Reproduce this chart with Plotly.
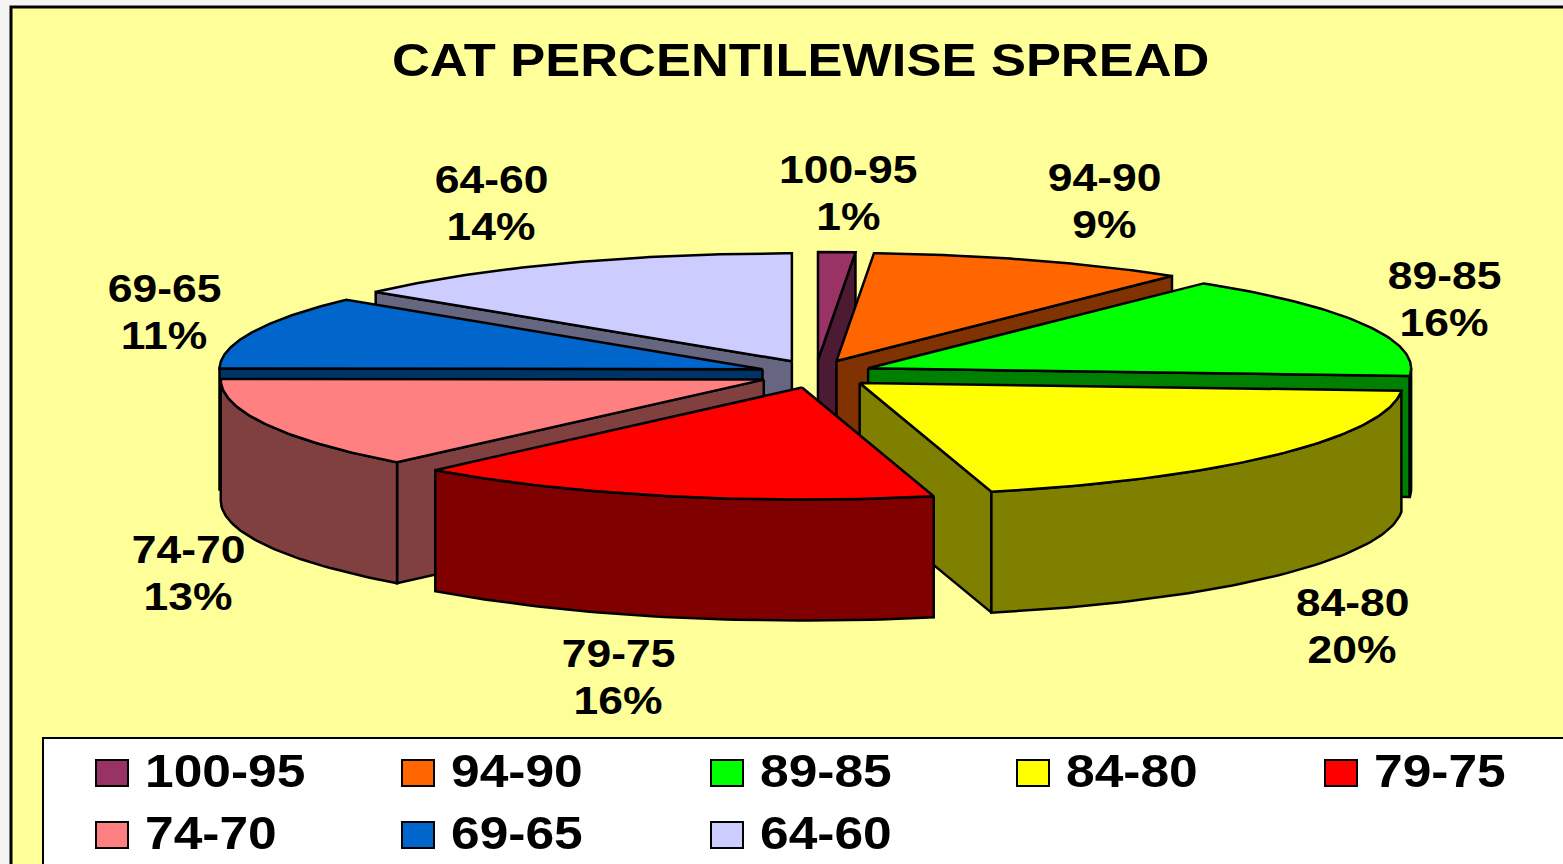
"""
CAT percentilewise spread: exploded pseudo-3D pie drawn with filled scatter traces.
"""

import numpy as np
import plotly.graph_objects as go

CATEGORIES = ["100-95", "94-90", "89-85", "84-80", "79-75", "74-70", "69-65", "64-60"]
PERCENT_LABELS = [1, 9, 16, 20, 16, 13, 11, 14]
# slice sizes, the labels above are these rounded
SHARES = [1.1, 9.5, 15.5, 20.0, 15.7, 13.3, 11.0, 13.9]
TOP_COLORS = ["#993366", "#FF6600", "#00FF00", "#FFFF00", "#FF0000", "#FF8080", "#0066CC", "#CCCCFF"]
SIDE_COLORS = ["#4D1A33", "#803300", "#008000", "#808000", "#800000", "#804040", "#003366", "#666680"]

# back to front, so nearer slices cover the farther ones
DRAW_ORDER = [0, 1, 7, 6, 2, 5, 3, 4]

# label centres in page pixels, (x, y of first line)
LABEL_POS = [(848, 170), (1104, 178), (1444, 276), (1352, 603),
             (618, 654), (188, 550), (164, 289), (491, 180)]

CX, CY = 816, 374
RX, RY_BACK, RY_FRONT = 543, 108, 112
EXPLODE_X, EXPLODE_Y = 57, 14
DEPTH = 121

BG = "#FFFF99"
FONT = "Liberation Sans"

# the original's text is wider than Liberation Sans Bold; stretch it after drawing
STRETCH_JS = """
document.body.style.margin = '0';
document.querySelectorAll('.annotation-text').forEach(function (t, i) {
  var legend = i > 16;
  t.style.transformBox = 'fill-box';
  t.style.transformOrigin = legend ? 'left center' : 'center';
  t.style.transform = 'scaleX(' + (i === 0 ? 1.14 : legend ? 1.12 : 1.17) + ')';
});
"""


def project(ax, ay, deg):
    """Rim point for a compass angle (0 = top, clockwise) around apex (ax, ay)."""
    t = np.radians(deg)
    ry = np.where(np.cos(t) > 0, RY_BACK, RY_FRONT)
    return ax + RX * np.sin(t), ay - ry * np.cos(t)


def poly(fig, xs, ys, color, width=2.5):
    fig.add_trace(go.Scatter(
        x=list(xs), y=list(ys), mode="lines", fill="toself", fillcolor=color,
        line=dict(color="black", width=width), hoverinfo="skip", showlegend=False,
    ))


def add_slice(fig, a0, a1, top, side):
    mid = np.radians((a0 + a1) / 2)
    ax = CX + EXPLODE_X * np.sin(mid)
    ay = CY - EXPLODE_Y * np.cos(mid)

    # radial cut faces, only the ones turned towards the viewer
    for angle, visible in ((a0, np.sin(np.radians(a0)) < -1e-9), (a1, np.sin(np.radians(a1)) > 1e-9)):
        if visible:
            x, y = project(ax, ay, angle)
            poly(fig, [ax, x, x, ax, ax], [ay, y, y + DEPTH, ay + DEPTH, ay], side)

    # outer wall
    lo, hi = max(a0, 90), min(a1, 270)
    if hi > lo:
        x, y = project(ax, ay, np.linspace(lo, hi, 60))
        poly(fig, np.r_[x, x[::-1], x[0]], np.r_[y, y[::-1] + DEPTH, y[0]], side)

    # top face
    x, y = project(ax, ay, np.linspace(a0, a1, 80))
    poly(fig, np.r_[ax, x, ax], np.r_[ay, y, ay], top)


fig = go.Figure()
edges = np.cumsum([0] + SHARES) * 360 / sum(SHARES)
for i in DRAW_ORDER:
    add_slice(fig, edges[i], edges[i + 1], TOP_COLORS[i], SIDE_COLORS[i])

shapes = [
    dict(type="rect", x0=11, y0=7, x1=1600, y1=900, fillcolor=BG,
         line=dict(color="black", width=3), layer="below"),
    dict(type="rect", x0=43, y0=738, x1=1600, y1=900, fillcolor="white",
         line=dict(color="black", width=2), layer="below"),
]
annotations = [dict(
    x=800, y=60, text="<b>CAT PERCENTILEWISE SPREAD</b>", showarrow=False,
    font=dict(family=FONT, size=46, color="black"),
)]

for (x, y), cat, pct in zip(LABEL_POS, CATEGORIES, PERCENT_LABELS):
    for offset, text in ((0, cat), (47, f"{pct}%")):
        annotations.append(dict(
            x=x, y=y + offset, text=f"<b>{text}</b>", showarrow=False,
            font=dict(family=FONT, size=38, color="black"),
        ))

# legend, two rows of five
LEGEND_X = [96, 402, 711, 1017, 1325]
LEGEND_Y = [773, 835]
for i, cat in enumerate(CATEGORIES):
    lx = LEGEND_X[i % 5]
    ly = LEGEND_Y[i // 5]
    shapes.append(dict(type="rect", x0=lx, x1=lx + 32, y0=ly - 13, y1=ly + 13,
                       fillcolor=TOP_COLORS[i], line=dict(color="black", width=2)))
    annotations.append(dict(
        x=lx + 47, y=ly - 2, text=f"<b>{cat}</b>", showarrow=False, xanchor="left",
        font=dict(family=FONT, size=46, color="black"),
    ))

fig.update_layout(
    width=1563,
    height=864,
    margin=dict(l=0, r=0, t=0, b=0),
    paper_bgcolor="#F4F4F4",
    plot_bgcolor="rgba(0,0,0,0)",
    xaxis=dict(range=[0, 1563], visible=False, fixedrange=True),
    yaxis=dict(range=[864, 0], visible=False, fixedrange=True),
    shapes=shapes,
    annotations=annotations,
    showlegend=False,
)
fig.write_html("out.html", config=dict(displayModeBar=False), post_script=STRETCH_JS)
